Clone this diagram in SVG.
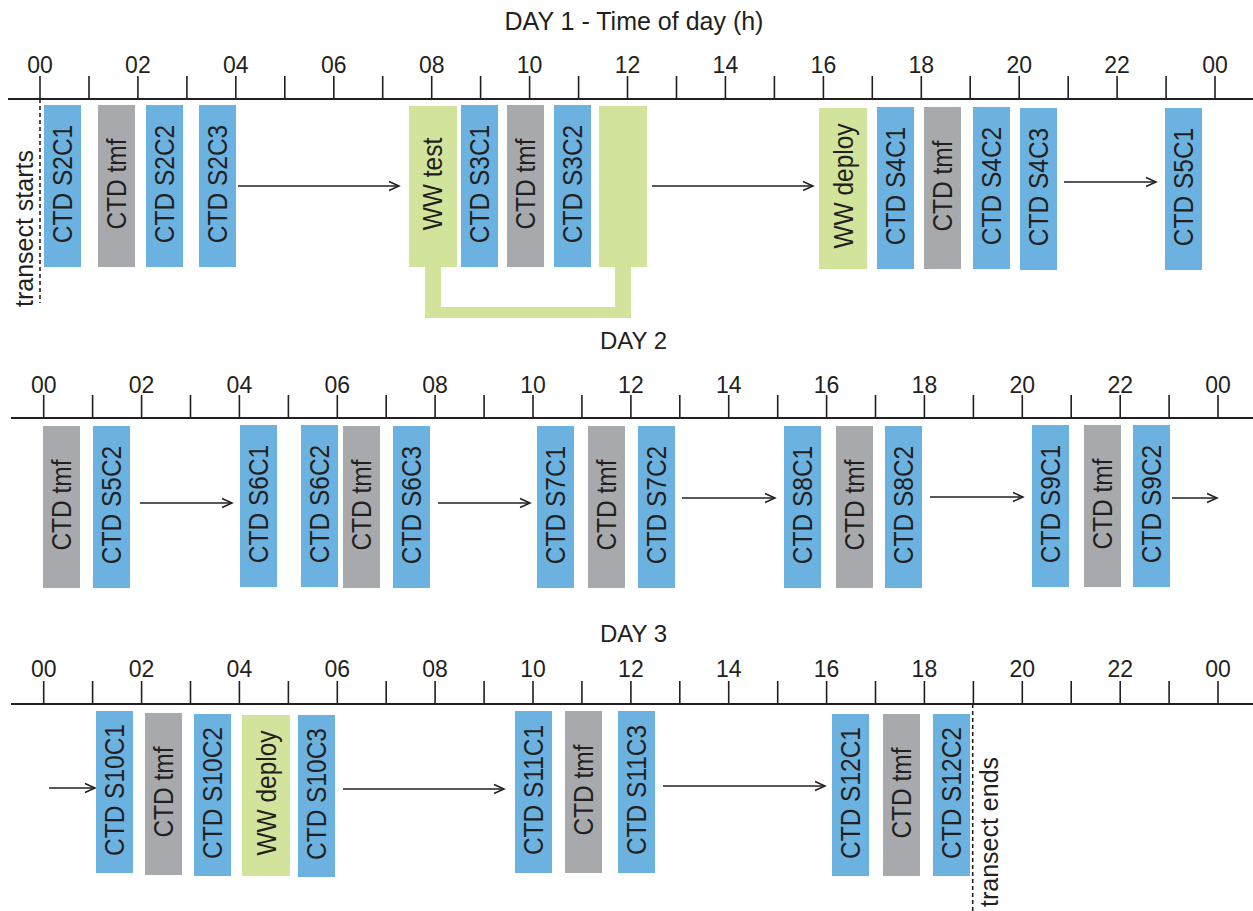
<svg xmlns="http://www.w3.org/2000/svg" width="1253" height="911" viewBox="0 0 1253 911">
<style>
.bg{fill:#ffffff}
.blue{fill:#6CB2E1}
.gray{fill:#A7A9AC}
.green{fill:#D2E39C}
.axis{stroke:#231F20;stroke-width:2;fill:none}
.tick{stroke:#231F20;stroke-width:1.6;fill:none}
.ttl{font-family:"Liberation Sans",Arial,sans-serif;font-size:24px;fill:#231F20;text-anchor:middle}
.hr{font-family:"Liberation Sans",Arial,sans-serif;font-size:23px;fill:#231F20;text-anchor:middle}
.bt{font-family:"Liberation Sans",Arial,sans-serif;font-size:24.5px;fill:#231F20;text-anchor:middle}
.side{font-family:"Liberation Sans",Arial,sans-serif;font-size:25px;fill:#231F20}
.dash{stroke:#231F20;stroke-width:1.6;stroke-dasharray:4,3;fill:none}
.arr{stroke:#231F20;stroke-width:1.6;fill:none;marker-end:url(#ah)}
</style>
<defs>
<marker id="ah" markerUnits="userSpaceOnUse" markerWidth="14" markerHeight="14" viewBox="-12 -7 14 14" refX="0" refY="0" orient="auto">
<path d="M-10,-4.5 L0,0 L-10,4.5" fill="none" stroke="#231F20" stroke-width="1.5"/>
</marker>
</defs>
<rect class="bg" x="0" y="0" width="1253" height="911"/>

<g id="axes">
<text class="ttl" x="634" y="29.5" style="font-size:25px">DAY 1 - Time of day (h)</text>
<path class="axis" d="M8,99H1253"/>
<path class="tick" d="M40,76V99M89,76V99M137.9,76V99M186.9,76V99M235.8,76V99M284.8,76V99M333.8,76V99M382.7,76V99M431.7,76V99M480.6,76V99M529.6,76V99M578.6,76V99M627.5,76V99M676.5,76V99M725.4,76V99M774.4,76V99M823.4,76V99M872.3,76V99M921.3,76V99M970.2,76V99M1019.2,76V99M1068.2,76V99M1117.1,76V99M1166.1,76V99M1215,76V99"/>
<g class="hr">
<text x="40" y="72.5">00</text><text x="137.9" y="72.5">02</text><text x="235.8" y="72.5">04</text><text x="333.8" y="72.5">06</text><text x="431.7" y="72.5">08</text><text x="529.6" y="72.5">10</text><text x="627.5" y="72.5">12</text><text x="725.4" y="72.5">14</text><text x="823.4" y="72.5">16</text><text x="921.3" y="72.5">18</text><text x="1019.2" y="72.5">20</text><text x="1117.1" y="72.5">22</text><text x="1215" y="72.5">00</text>
</g>

<text class="ttl" x="633.5" y="348.5">DAY 2</text>
<path class="axis" d="M11,418H1253"/>
<path class="tick" d="M43.7,395V418M92.6,395V418M141.6,395V418M190.5,395V418M239.4,395V418M288.4,395V418M337.3,395V418M386.2,395V418M435.1,395V418M484.1,395V418M533,395V418M581.9,395V418M630.9,395V418M679.8,395V418M728.7,395V418M777.7,395V418M826.6,395V418M875.5,395V418M924.4,395V418M973.4,395V418M1022.3,395V418M1071.2,395V418M1120.2,395V418M1169.1,395V418M1218,395V418"/>
<g class="hr">
<text x="43.7" y="392.5">00</text><text x="141.6" y="392.5">02</text><text x="239.4" y="392.5">04</text><text x="337.3" y="392.5">06</text><text x="435.1" y="392.5">08</text><text x="533" y="392.5">10</text><text x="630.9" y="392.5">12</text><text x="728.7" y="392.5">14</text><text x="826.6" y="392.5">16</text><text x="924.4" y="392.5">18</text><text x="1022.3" y="392.5">20</text><text x="1120.2" y="392.5">22</text><text x="1218" y="392.5">00</text>
</g>

<text class="ttl" x="633.5" y="642">DAY 3</text>
<path class="axis" d="M11,704H1253"/>
<path class="tick" d="M43.7,681V704M92.6,681V704M141.6,681V704M190.5,681V704M239.4,681V704M288.4,681V704M337.3,681V704M386.2,681V704M435.1,681V704M484.1,681V704M533,681V704M581.9,681V704M630.9,681V704M679.8,681V704M728.7,681V704M777.7,681V704M826.6,681V704M875.5,681V704M924.4,681V704M973.4,681V704M1022.3,681V704M1071.2,681V704M1120.2,681V704M1169.1,681V704M1218,681V704"/>
<g class="hr">
<text x="43.7" y="677">00</text><text x="141.6" y="677">02</text><text x="239.4" y="677">04</text><text x="337.3" y="677">06</text><text x="435.1" y="677">08</text><text x="533" y="677">10</text><text x="630.9" y="677">12</text><text x="728.7" y="677">14</text><text x="826.6" y="677">16</text><text x="924.4" y="677">18</text><text x="1022.3" y="677">20</text><text x="1120.2" y="677">22</text><text x="1218" y="677">00</text>
</g>
</g>

<g id="transect-start">
<path class="dash" d="M40,99V303"/>
<text class="side" transform="translate(33,307) rotate(-90)">transect starts</text>
</g>
<g id="transect-end">
<path class="dash" d="M972.7,704V911"/>
<text class="side" transform="translate(998,907) rotate(-90)">transect ends</text>
</g>

<g id="ww-test-bracket">
<path class="green" d="M425,266V318H631V266H615V307H441V266Z"/>
</g>

<g id="connectors">
<path class="arr" d="M238,186H399"/>
<path class="arr" d="M652,186H813"/>
<path class="arr" d="M1064,182H1156"/>
<path class="arr" d="M140,503H232"/>
<path class="arr" d="M438,503H530"/>
<path class="arr" d="M682,498H775"/>
<path class="arr" d="M930,497H1023"/>
<path class="arr" d="M1172,498H1217"/>
<path class="arr" d="M49,788H95"/>
<path class="arr" d="M343,789H504"/>
<path class="arr" d="M663,786H825"/>
</g>

<!-- DAY 1 -->
<g id="d1-s2c1"><rect class="blue" x="44" y="105" width="37" height="162"/><text class="bt" transform="translate(62.5,184) rotate(-90) scale(1,1.13)" y="8.7">CTD S2C1</text></g>
<g id="d1-tmf1"><rect class="gray" x="98" y="105" width="37" height="162"/><text class="bt" transform="translate(116.5,184) rotate(-90) scale(1,1.13)" y="8.7">CTD tmf</text></g>
<g id="d1-s2c2"><rect class="blue" x="146" y="105" width="37" height="162"/><text class="bt" transform="translate(164.5,184) rotate(-90) scale(1,1.13)" y="8.7">CTD S2C2</text></g>
<g id="d1-s2c3"><rect class="blue" x="199" y="105" width="37" height="162"/><text class="bt" transform="translate(217.5,184) rotate(-90) scale(1,1.13)" y="8.7">CTD S2C3</text></g>
<g id="d1-ww-test"><rect class="green" x="409" y="106" width="48" height="161"/><text class="bt" transform="translate(432,184) rotate(-90) scale(1,1.13)" y="8.7">WW test</text></g>
<g id="d1-s3c1"><rect class="blue" x="461" y="105" width="37" height="162"/><text class="bt" transform="translate(479.5,184) rotate(-90) scale(1,1.13)" y="8.7">CTD S3C1</text></g>
<g id="d1-tmf2"><rect class="gray" x="507" y="105" width="37" height="162"/><text class="bt" transform="translate(525.5,184) rotate(-90) scale(1,1.13)" y="8.7">CTD tmf</text></g>
<g id="d1-s3c2"><rect class="blue" x="554" y="105" width="37" height="162"/><text class="bt" transform="translate(572.5,184) rotate(-90) scale(1,1.13)" y="8.7">CTD S3C2</text></g>
<g id="d1-ww-test-end"><rect class="green" x="599" y="106" width="48" height="161"/></g>
<g id="d1-ww-deploy"><rect class="green" x="819" y="108" width="48" height="161"/><text class="bt" transform="translate(843,186) rotate(-90) scale(1,1.13)" y="8.7">WW deploy</text></g>
<g id="d1-s4c1"><rect class="blue" x="877" y="107" width="37" height="162"/><text class="bt" transform="translate(895.5,186) rotate(-90) scale(1,1.13)" y="8.7">CTD S4C1</text></g>
<g id="d1-tmf3"><rect class="gray" x="924" y="107" width="37" height="162"/><text class="bt" transform="translate(942.5,186) rotate(-90) scale(1,1.13)" y="8.7">CTD tmf</text></g>
<g id="d1-s4c2"><rect class="blue" x="973" y="107" width="37" height="162"/><text class="bt" transform="translate(991.5,186) rotate(-90) scale(1,1.13)" y="8.7">CTD S4C2</text></g>
<g id="d1-s4c3"><rect class="blue" x="1020" y="108" width="37" height="162"/><text class="bt" transform="translate(1038.5,187) rotate(-90) scale(1,1.13)" y="8.7">CTD S4C3</text></g>
<g id="d1-s5c1"><rect class="blue" x="1165" y="108" width="37" height="162"/><text class="bt" transform="translate(1183.5,187) rotate(-90) scale(1,1.13)" y="8.7">CTD S5C1</text></g>

<!-- DAY 2 -->
<g id="d2-tmf1"><rect class="gray" x="43" y="426" width="37" height="162"/><text class="bt" transform="translate(61.5,505) rotate(-90) scale(1,1.13)" y="8.7">CTD tmf</text></g>
<g id="d2-s5c2"><rect class="blue" x="93" y="426" width="37" height="162"/><text class="bt" transform="translate(111.5,505) rotate(-90) scale(1,1.13)" y="8.7">CTD S5C2</text></g>
<g id="d2-s6c1"><rect class="blue" x="240" y="425" width="37" height="162"/><text class="bt" transform="translate(258.5,504) rotate(-90) scale(1,1.13)" y="8.7">CTD S6C1</text></g>
<g id="d2-s6c2"><rect class="blue" x="301" y="425" width="37" height="162"/><text class="bt" transform="translate(319.5,504) rotate(-90) scale(1,1.13)" y="8.7">CTD S6C2</text></g>
<g id="d2-tmf2"><rect class="gray" x="343" y="426" width="37" height="162"/><text class="bt" transform="translate(361.5,505) rotate(-90) scale(1,1.13)" y="8.7">CTD tmf</text></g>
<g id="d2-s6c3"><rect class="blue" x="393" y="426" width="37" height="162"/><text class="bt" transform="translate(411.5,505) rotate(-90) scale(1,1.13)" y="8.7">CTD S6C3</text></g>
<g id="d2-s7c1"><rect class="blue" x="537" y="426" width="37" height="162"/><text class="bt" transform="translate(555.5,505) rotate(-90) scale(1,1.13)" y="8.7">CTD S7C1</text></g>
<g id="d2-tmf3"><rect class="gray" x="588" y="426" width="37" height="162"/><text class="bt" transform="translate(606.5,505) rotate(-90) scale(1,1.13)" y="8.7">CTD tmf</text></g>
<g id="d2-s7c2"><rect class="blue" x="638" y="426" width="37" height="162"/><text class="bt" transform="translate(656.5,505) rotate(-90) scale(1,1.13)" y="8.7">CTD S7C2</text></g>
<g id="d2-s8c1"><rect class="blue" x="784" y="426" width="37" height="162"/><text class="bt" transform="translate(802.5,505) rotate(-90) scale(1,1.13)" y="8.7">CTD S8C1</text></g>
<g id="d2-tmf4"><rect class="gray" x="836" y="426" width="37" height="162"/><text class="bt" transform="translate(854.5,505) rotate(-90) scale(1,1.13)" y="8.7">CTD tmf</text></g>
<g id="d2-s8c2"><rect class="blue" x="885" y="426" width="37" height="162"/><text class="bt" transform="translate(903.5,505) rotate(-90) scale(1,1.13)" y="8.7">CTD S8C2</text></g>
<g id="d2-s9c1"><rect class="blue" x="1032" y="425" width="37" height="162"/><text class="bt" transform="translate(1050.5,504) rotate(-90) scale(1,1.13)" y="8.7">CTD S9C1</text></g>
<g id="d2-tmf5"><rect class="gray" x="1084" y="425" width="37" height="162"/><text class="bt" transform="translate(1102.5,504) rotate(-90) scale(1,1.13)" y="8.7">CTD tmf</text></g>
<g id="d2-s9c2"><rect class="blue" x="1133" y="425" width="37" height="162"/><text class="bt" transform="translate(1151.5,504) rotate(-90) scale(1,1.13)" y="8.7">CTD S9C2</text></g>

<!-- DAY 3 -->
<g id="d3-s10c1"><rect class="blue" x="96" y="711" width="37" height="162"/><text class="bt" transform="translate(114.5,790) rotate(-90) scale(1,1.13)" y="8.7">CTD S10C1</text></g>
<g id="d3-tmf1"><rect class="gray" x="145" y="713" width="37" height="162"/><text class="bt" transform="translate(163.5,792) rotate(-90) scale(1,1.13)" y="8.7">CTD tmf</text></g>
<g id="d3-s10c2"><rect class="blue" x="194" y="714" width="37" height="162"/><text class="bt" transform="translate(212.5,793) rotate(-90) scale(1,1.13)" y="8.7">CTD S10C2</text></g>
<g id="d3-ww-deploy"><rect class="green" x="242" y="715" width="48" height="161"/><text class="bt" transform="translate(266,793) rotate(-90) scale(1,1.13)" y="8.7">WW deploy</text></g>
<g id="d3-s10c3"><rect class="blue" x="298" y="715" width="37" height="162"/><text class="bt" transform="translate(316.5,794) rotate(-90) scale(1,1.13)" y="8.7">CTD S10C3</text></g>
<g id="d3-s11c1"><rect class="blue" x="515" y="711" width="37" height="162"/><text class="bt" transform="translate(533.5,790) rotate(-90) scale(1,1.13)" y="8.7">CTD S11C1</text></g>
<g id="d3-tmf2"><rect class="gray" x="565" y="711" width="37" height="162"/><text class="bt" transform="translate(583.5,790) rotate(-90) scale(1,1.13)" y="8.7">CTD tmf</text></g>
<g id="d3-s11c3"><rect class="blue" x="618" y="711" width="37" height="162"/><text class="bt" transform="translate(636.5,790) rotate(-90) scale(1,1.13)" y="8.7">CTD S11C3</text></g>
<g id="d3-s12c1"><rect class="blue" x="832" y="714" width="37" height="162"/><text class="bt" transform="translate(850.5,793) rotate(-90) scale(1,1.13)" y="8.7">CTD S12C1</text></g>
<g id="d3-tmf3"><rect class="gray" x="883" y="714" width="37" height="162"/><text class="bt" transform="translate(901.5,793) rotate(-90) scale(1,1.13)" y="8.7">CTD tmf</text></g>
<g id="d3-s12c2"><rect class="blue" x="933" y="714" width="37" height="162"/><text class="bt" transform="translate(951.5,793) rotate(-90) scale(1,1.13)" y="8.7">CTD S12C2</text></g>
</svg>
